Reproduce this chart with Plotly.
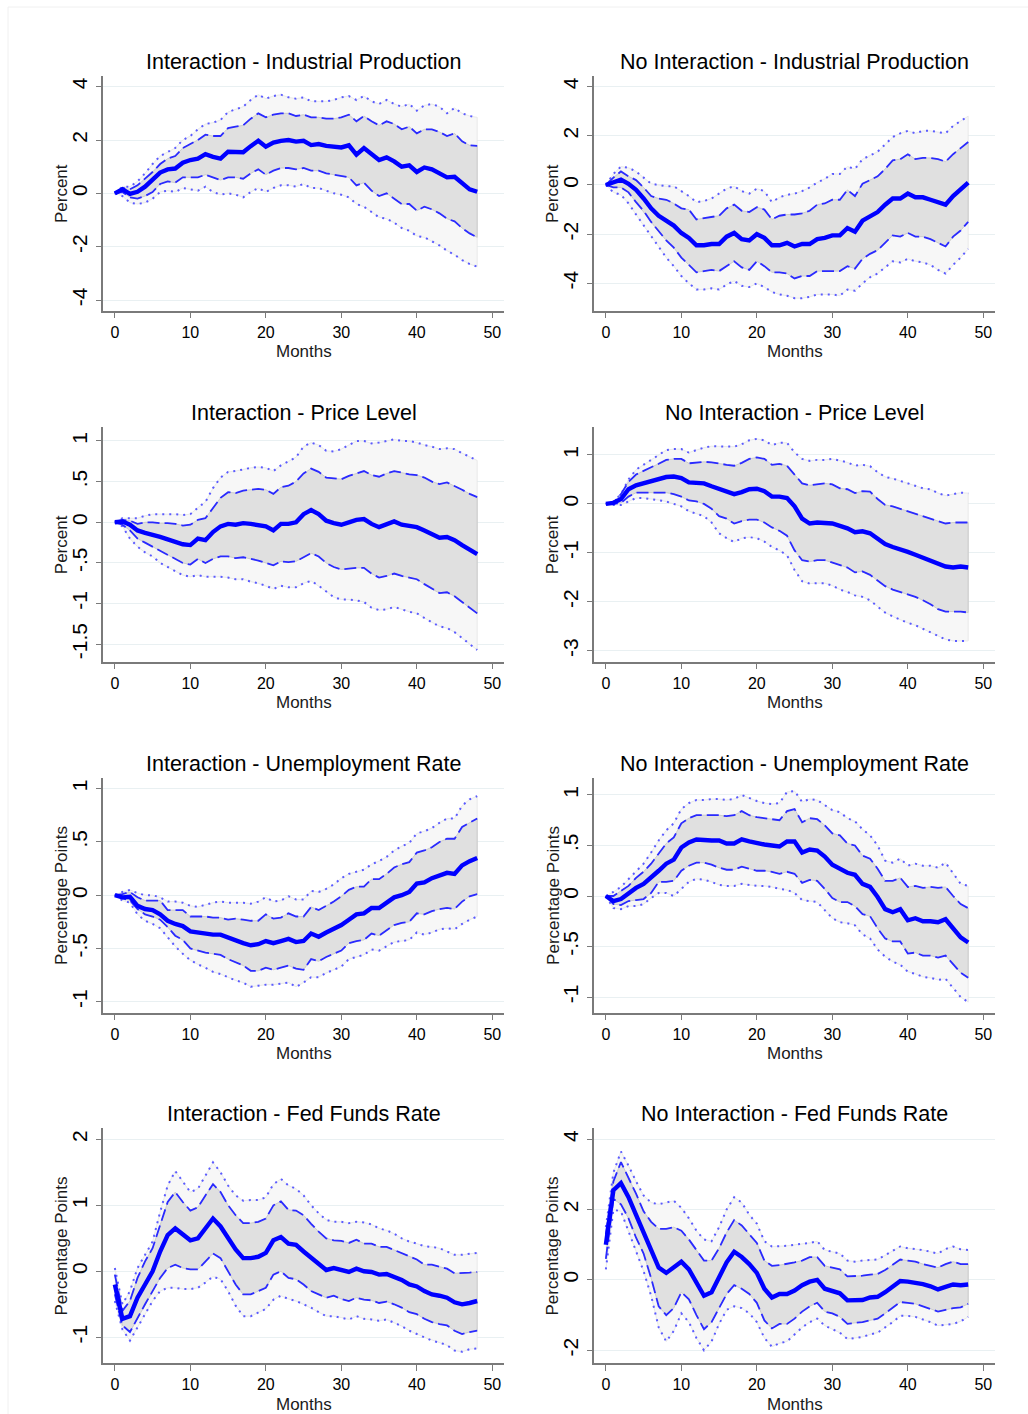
import plotly.graph_objects as go

months = list(range(49))

# ---------------- Interaction - Industrial Production ----------------
ip_int = [0, 0.15, -0.02, 0.06, 0.25, 0.5, 0.78, 0.9, 0.93, 1.15, 1.25, 1.3, 1.47, 1.37, 1.3, 1.56, 1.56, 1.54, 1.77, 1.97,
          1.75, 1.9, 1.97, 2.0, 1.94, 1.97, 1.81, 1.85, 1.78, 1.75, 1.72, 1.8, 1.45, 1.7, 1.45, 1.25, 1.35, 1.2, 1.0, 1.05,
          0.8, 0.97, 0.9, 0.77, 0.6, 0.62, 0.37, 0.15, 0.06]
ip_int_hi68 = [0, 0.2, 0.15, 0.3, 0.55, 0.8, 1.1, 1.3, 1.4, 1.7, 1.85, 2.0, 2.2, 2.15, 2.15, 2.45, 2.5, 2.55, 2.8, 3.0,
               2.85, 2.95, 3.0, 3.0, 2.9, 2.95, 2.85, 2.85, 2.8, 2.8, 2.85, 2.95, 2.7, 2.9, 2.7, 2.55, 2.7, 2.6, 2.4, 2.5,
               2.25, 2.4, 2.4, 2.3, 2.15, 2.25, 1.95, 1.8, 1.78]
ip_int_lo68 = [0, 0.05, -0.15, -0.2, -0.1, 0.05, 0.35, 0.45, 0.4, 0.6, 0.6, 0.6, 0.7, 0.6, 0.5, 0.6, 0.6, 0.55, 0.75, 0.9,
               0.7, 0.85, 0.95, 0.95, 0.9, 0.95, 0.85, 0.85, 0.75, 0.7, 0.65, 0.6, 0.3, 0.4, 0.1, -0.1, 0.0, -0.2, -0.4, -0.4,
               -0.65, -0.5, -0.6, -0.75, -0.95, -1.05, -1.3, -1.5, -1.65]
ip_int_hi90 = [0, 0.25, 0.25, 0.45, 0.75, 1.1, 1.4, 1.55, 1.7, 2.0, 2.15, 2.4, 2.6, 2.65, 2.75, 3.05, 3.15, 3.25, 3.5, 3.7,
               3.55, 3.65, 3.7, 3.6, 3.55, 3.6, 3.45, 3.45, 3.45, 3.5, 3.6, 3.65, 3.5, 3.65, 3.45, 3.35, 3.5, 3.35, 3.25, 3.35,
               3.1, 3.3, 3.35, 3.25, 3.0, 3.2, 3.0, 2.9, 2.85]
ip_int_lo90 = [0, -0.1, -0.35, -0.4, -0.35, -0.2, 0.05, 0.1, 0.05, 0.2, 0.15, 0.1, 0.25, 0.05, -0.05, 0.0, -0.05, -0.15, 0.05, 0.2,
               0.05, 0.2, 0.3, 0.3, 0.25, 0.35, 0.2, 0.2, 0.1, 0.0, -0.05, -0.15, -0.4, -0.5, -0.7, -0.9, -0.95, -1.1, -1.3, -1.4,
               -1.6, -1.65, -1.8, -1.95, -2.15, -2.3, -2.5, -2.65, -2.75]

# ---------------- No Interaction - Industrial Production ----------------
ip_noint = [0, 0.1, 0.22, 0.05, -0.2, -0.55, -0.95, -1.25, -1.45, -1.65, -1.95, -2.15, -2.45, -2.45, -2.4, -2.4, -2.1, -1.95, -2.2, -2.25,
            -2.0, -2.15, -2.45, -2.45, -2.35, -2.5, -2.4, -2.4, -2.2, -2.15, -2.05, -2.05, -1.75, -1.9, -1.45, -1.25, -1.1, -0.8, -0.55, -0.55,
            -0.35, -0.5, -0.5, -0.6, -0.7, -0.8, -0.45, -0.2, 0.1]
ip_noint_hi68 = [0, 0.3, 0.55, 0.35, 0.2, -0.1, -0.45, -0.55, -0.6, -0.75, -0.95, -1.0, -1.4, -1.35, -1.3, -1.25, -0.95, -0.8, -1.05, -1.1,
                 -0.9, -1.0, -1.4, -1.25, -1.2, -1.2, -1.15, -1.05, -0.8, -0.75, -0.6, -0.6, -0.2, -0.45, 0.05, 0.2, 0.35, 0.65, 1.0, 1.05,
                 1.25, 1.05, 1.1, 1.1, 1.05, 0.95, 1.25, 1.5, 1.75]
ip_noint_lo68 = [0, -0.1, -0.1, -0.3, -0.7, -1.05, -1.5, -1.9, -2.25, -2.55, -2.95, -3.25, -3.55, -3.5, -3.45, -3.5, -3.3, -3.1, -3.35, -3.45,
                 -3.1, -3.3, -3.55, -3.55, -3.6, -3.8, -3.7, -3.7, -3.5, -3.5, -3.5, -3.5, -3.3, -3.4, -3.0, -2.8, -2.65, -2.35, -2.05, -2.1,
                 -1.95, -2.1, -2.1, -2.2, -2.35, -2.5, -2.1, -1.85, -1.5]
ip_noint_hi90 = [0, 0.45, 0.75, 0.7, 0.55, 0.3, 0.05, 0.0, -0.05, -0.05, -0.25, -0.45, -0.7, -0.65, -0.55, -0.35, -0.15, -0.05, -0.25, -0.35,
                 -0.15, -0.25, -0.7, -0.5, -0.4, -0.35, -0.25, -0.1, 0.1, 0.25, 0.45, 0.45, 0.75, 0.65, 1.05, 1.2, 1.35, 1.65, 1.95, 2.1,
                 2.2, 2.1, 2.2, 2.2, 2.15, 2.1, 2.4, 2.6, 2.8]
ip_noint_lo90 = [0, -0.3, -0.4, -0.75, -1.2, -1.65, -2.1, -2.5, -2.95, -3.3, -3.7, -4.0, -4.25, -4.25, -4.2, -4.25, -4.05, -3.9, -4.1, -4.15,
                 -4.0, -4.15, -4.35, -4.45, -4.5, -4.6, -4.6, -4.55, -4.45, -4.45, -4.45, -4.5, -4.25, -4.3, -4.0, -3.75, -3.6, -3.35, -3.1, -3.15,
                 -3.0, -3.1, -3.15, -3.25, -3.45, -3.6, -3.25, -2.95, -2.6]

# ---------------- Interaction - Price Level ----------------
pl_int = [0, 0.01, -0.03, -0.1, -0.13, -0.15, -0.18, -0.21, -0.24, -0.27, -0.28, -0.2, -0.22, -0.12, -0.05, -0.02, -0.03, -0.01, -0.02, -0.03,
          -0.05, -0.1, -0.02, -0.02, 0.0, 0.1, 0.15, 0.1, 0.02, -0.01, -0.03, 0.0, 0.03, 0.04, -0.02, -0.06, -0.03, 0.01, -0.03, -0.04,
          -0.06, -0.1, -0.14, -0.19, -0.18, -0.22, -0.28, -0.33, -0.39]
pl_int_hi68 = [0, 0.03, 0.02, -0.02, 0.0, 0.0, -0.01, -0.01, -0.02, -0.04, -0.03, 0.03, 0.05, 0.18, 0.3, 0.37, 0.36, 0.39, 0.4, 0.41,
               0.4, 0.35, 0.43, 0.45, 0.5, 0.6, 0.66, 0.62, 0.55, 0.54, 0.53, 0.57, 0.6, 0.63, 0.58, 0.56, 0.6, 0.63, 0.61, 0.59,
               0.58, 0.55, 0.5, 0.47, 0.49, 0.45, 0.4, 0.35, 0.31]
pl_int_lo68 = [0, -0.03, -0.1, -0.2, -0.25, -0.3, -0.35, -0.4, -0.45, -0.5, -0.52, -0.45, -0.5, -0.45, -0.42, -0.42, -0.44, -0.43, -0.45, -0.47,
               -0.5, -0.53, -0.48, -0.49, -0.48, -0.43, -0.38, -0.42, -0.5, -0.55, -0.58, -0.57, -0.56, -0.56, -0.63, -0.68, -0.66, -0.63, -0.66, -0.68,
               -0.7, -0.76, -0.82, -0.87, -0.86, -0.91, -0.98, -1.05, -1.12]
pl_int_hi90 = [0, 0.05, 0.05, 0.05, 0.08, 0.1, 0.1, 0.1, 0.1, 0.09, 0.1, 0.18, 0.25, 0.42, 0.55, 0.62, 0.63, 0.65, 0.67, 0.68,
               0.67, 0.63, 0.7, 0.75, 0.8, 0.93, 0.98, 0.95, 0.88, 0.87, 0.9, 0.95, 1.0, 1.0, 0.97, 0.98, 1.0, 1.02, 1.0, 1.0,
               0.98, 0.95, 0.93, 0.9, 0.91, 0.9, 0.85, 0.8, 0.76]
pl_int_lo90 = [0, -0.05, -0.2, -0.3, -0.37, -0.42, -0.5, -0.55, -0.6, -0.65, -0.67, -0.65, -0.67, -0.67, -0.67, -0.68, -0.7, -0.7, -0.73, -0.75,
               -0.78, -0.82, -0.78, -0.8, -0.8, -0.75, -0.72, -0.78, -0.85, -0.92, -0.95, -0.95, -0.96, -0.98, -1.05, -1.08, -1.07, -1.04, -1.07, -1.1,
               -1.12, -1.18, -1.23, -1.28, -1.3, -1.35, -1.42, -1.5, -1.57]

# ---------------- No Interaction - Price Level ----------------
pl_noint = [0, 0.02, 0.1, 0.3, 0.38, 0.42, 0.46, 0.5, 0.55, 0.56, 0.53, 0.44, 0.44, 0.42, 0.36, 0.3, 0.25, 0.2, 0.24, 0.3,
            0.31, 0.26, 0.15, 0.15, 0.12, -0.05, -0.3, -0.4, -0.38, -0.38, -0.4, -0.45, -0.5, -0.58, -0.56, -0.6, -0.7, -0.82, -0.88, -0.92,
            -0.98, -1.04, -1.1, -1.15, -1.2, -1.28, -1.3, -1.28, -1.3]
pl_noint_hi68 = [0, 0.03, 0.2, 0.45, 0.6, 0.68, 0.75, 0.82, 0.9, 0.92, 0.92, 0.83, 0.84, 0.86, 0.85, 0.82, 0.8, 0.78, 0.84, 0.92,
                 0.95, 0.92, 0.8, 0.82, 0.78, 0.6, 0.42, 0.38, 0.4, 0.42, 0.4, 0.32, 0.3, 0.22, 0.26, 0.25, 0.1, -0.02, -0.05, -0.1,
                 -0.15, -0.2, -0.25, -0.3, -0.35, -0.4, -0.38, -0.38, -0.38]
pl_noint_lo68 = [0, 0.0, 0.02, 0.15, 0.23, 0.23, 0.23, 0.22, 0.23, 0.2, 0.15, 0.07, 0.05, 0.0, -0.1, -0.25, -0.3, -0.4, -0.35, -0.32,
                 -0.32, -0.38, -0.48, -0.55, -0.65, -0.95, -1.15, -1.18, -1.15, -1.15, -1.2, -1.25, -1.3, -1.4, -1.38, -1.45, -1.57, -1.68, -1.75, -1.8,
                 -1.85, -1.9, -1.97, -2.05, -2.15, -2.2, -2.2, -2.2, -2.22]
pl_noint_hi90 = [0, 0.05, 0.2, 0.5, 0.7, 0.8, 0.9, 1.0, 1.1, 1.12, 1.12, 1.05, 1.1, 1.15, 1.18, 1.18, 1.17, 1.17, 1.22, 1.3,
                 1.33, 1.3, 1.2, 1.25, 1.25, 1.05, 0.92, 0.88, 0.9, 0.9, 0.92, 0.88, 0.85, 0.78, 0.8, 0.77, 0.65, 0.55, 0.52, 0.47,
                 0.42, 0.38, 0.32, 0.3, 0.22, 0.17, 0.2, 0.23, 0.22]
pl_noint_lo90 = [0, -0.02, -0.02, 0.05, 0.12, 0.12, 0.1, 0.08, 0.05, 0.0, -0.05, -0.15, -0.2, -0.25, -0.38, -0.6, -0.7, -0.78, -0.7, -0.68,
                 -0.7, -0.77, -0.88, -0.95, -1.05, -1.35, -1.58, -1.63, -1.62, -1.62, -1.67, -1.75, -1.8, -1.87, -1.9, -1.97, -2.1, -2.22, -2.3, -2.37,
                 -2.43, -2.48, -2.55, -2.62, -2.7, -2.77, -2.8, -2.8, -2.8]

# ---------------- Interaction - Unemployment Rate ----------------
ur_int = [0, -0.02, -0.015, -0.1, -0.13, -0.14, -0.18, -0.24, -0.27, -0.29, -0.34, -0.35, -0.37, -0.37, -0.37, -0.4, -0.42, -0.45, -0.47, -0.46,
          -0.43, -0.45, -0.43, -0.41, -0.44, -0.43, -0.36, -0.39, -0.35, -0.32, -0.28, -0.23, -0.18, -0.17, -0.12, -0.12, -0.07, -0.02, 0.0, 0.03,
          0.11, 0.12, 0.16, 0.18, 0.21, 0.2, 0.28, 0.32, 0.35]
ur_int_hi68 = [0, 0.01, 0.03, -0.02, -0.05, -0.05, -0.05, -0.14, -0.14, -0.14, -0.2, -0.2, -0.2, -0.21, -0.21, -0.23, -0.22, -0.23, -0.24, -0.24,
               -0.18, -0.22, -0.21, -0.17, -0.2, -0.2, -0.11, -0.14, -0.1, -0.06, -0.01, 0.05, 0.08, 0.08, 0.15, 0.15, 0.2, 0.26, 0.29, 0.31,
               0.4, 0.42, 0.45, 0.5, 0.53, 0.53, 0.64, 0.68, 0.72]
ur_int_lo68 = [0, -0.03, -0.05, -0.13, -0.18, -0.2, -0.23, -0.3, -0.38, -0.42, -0.5, -0.52, -0.54, -0.55, -0.56, -0.6, -0.63, -0.66, -0.71, -0.71,
               -0.68, -0.7, -0.68, -0.66, -0.69, -0.7, -0.6, -0.62, -0.58, -0.55, -0.52, -0.45, -0.43, -0.42, -0.36, -0.38, -0.33, -0.28, -0.26, -0.25,
               -0.17, -0.18, -0.15, -0.13, -0.12, -0.13, -0.06, -0.01, 0.01]
ur_int_hi90 = [0, 0.03, 0.05, 0.02, 0.0, 0.0, -0.02, -0.06, -0.06, -0.07, -0.1, -0.11, -0.09, -0.07, -0.06, -0.07, -0.07, -0.07, -0.08, -0.06,
               -0.02, -0.06, -0.05, -0.01, -0.04, -0.04, 0.04, 0.03, 0.06, 0.1, 0.16, 0.2, 0.22, 0.24, 0.29, 0.32, 0.36, 0.42, 0.46, 0.49,
               0.58, 0.6, 0.63, 0.68, 0.72, 0.72, 0.84, 0.9, 0.93]
ur_int_lo90 = [0, -0.05, -0.07, -0.18, -0.24, -0.27, -0.31, -0.4, -0.48, -0.55, -0.61, -0.65, -0.68, -0.72, -0.74, -0.77, -0.8, -0.82, -0.86, -0.85,
               -0.84, -0.84, -0.83, -0.82, -0.86, -0.82, -0.77, -0.77, -0.73, -0.7, -0.67, -0.6, -0.58, -0.56, -0.51, -0.52, -0.48, -0.44, -0.43, -0.42,
               -0.35, -0.37, -0.35, -0.32, -0.31, -0.32, -0.27, -0.23, -0.2]

# ---------------- No Interaction - Unemployment Rate ----------------
ur_noint = [0, -0.05, -0.03, 0.03, 0.08, 0.12, 0.18, 0.25, 0.32, 0.36, 0.48, 0.53, 0.56, 0.55, 0.55, 0.55, 0.52, 0.52, 0.56, 0.54,
            0.52, 0.51, 0.5, 0.49, 0.54, 0.54, 0.43, 0.46, 0.45, 0.39, 0.31, 0.27, 0.23, 0.21, 0.12, 0.09, -0.01, -0.13, -0.16, -0.13,
            -0.24, -0.22, -0.25, -0.25, -0.26, -0.23, -0.32, -0.41, -0.46]
ur_noint_hi68 = [0, 0.0, 0.05, 0.1, 0.18, 0.24, 0.32, 0.42, 0.52, 0.58, 0.72, 0.77, 0.8, 0.8, 0.8, 0.8, 0.79, 0.8, 0.84, 0.8,
                 0.78, 0.77, 0.76, 0.75, 0.84, 0.86, 0.73, 0.77, 0.76, 0.7, 0.62, 0.6, 0.52, 0.5, 0.4, 0.37, 0.27, 0.15, 0.15, 0.18,
                 0.09, 0.1, 0.08, 0.09, 0.08, 0.09, 0.0, -0.08, -0.12]
ur_noint_lo68 = [0, -0.08, -0.09, -0.05, -0.04, -0.03, 0.03, 0.14, 0.14, 0.15, 0.25, 0.3, 0.33, 0.33, 0.31, 0.28, 0.26, 0.26, 0.29, 0.27,
                 0.25, 0.25, 0.24, 0.22, 0.24, 0.22, 0.13, 0.16, 0.15, 0.07, -0.02, -0.06, -0.06, -0.1, -0.18, -0.2, -0.32, -0.42, -0.45, -0.45,
                 -0.57, -0.56, -0.59, -0.59, -0.61, -0.59, -0.67, -0.76, -0.81]
ur_noint_hi90 = [0, 0.04, 0.09, 0.17, 0.25, 0.32, 0.43, 0.55, 0.65, 0.72, 0.86, 0.92, 0.95, 0.95, 0.96, 0.96, 0.95, 0.96, 1.0, 0.97,
                 0.94, 0.92, 0.91, 0.92, 1.03, 1.04, 0.93, 0.96, 0.95, 0.9, 0.85, 0.83, 0.77, 0.74, 0.66, 0.6, 0.5, 0.35, 0.33, 0.37,
                 0.3, 0.32, 0.3, 0.3, 0.28, 0.33, 0.23, 0.12, 0.1]
ur_noint_lo90 = [0, -0.12, -0.13, -0.1, -0.1, -0.08, -0.02, 0.03, 0.03, 0.0, 0.07, 0.14, 0.17, 0.16, 0.14, 0.11, 0.1, 0.1, 0.12, 0.11,
                 0.1, 0.1, 0.09, 0.07, 0.06, 0.03, -0.04, -0.05, -0.06, -0.14, -0.22, -0.26, -0.27, -0.29, -0.38, -0.42, -0.53, -0.6, -0.65, -0.68,
                 -0.75, -0.77, -0.8, -0.81, -0.83, -0.82, -0.91, -1.0, -1.05]

# ---------------- Interaction - Fed Funds Rate ----------------
ff_int = [-0.2, -0.72, -0.68, -0.4, -0.2, 0.0, 0.3, 0.55, 0.65, 0.55, 0.47, 0.5, 0.65, 0.8, 0.68, 0.5, 0.33, 0.2, 0.2, 0.22,
          0.28, 0.47, 0.52, 0.42, 0.4, 0.3, 0.2, 0.1, 0.02, 0.05, 0.02, -0.01, 0.04, 0.0, -0.01, -0.05, -0.04, -0.08, -0.13, -0.2,
          -0.23, -0.3, -0.35, -0.37, -0.4, -0.47, -0.5, -0.48, -0.45]
ff_int_hi68 = [-0.05, -0.6, -0.45, -0.1, 0.15, 0.35, 0.7, 1.05, 1.2, 1.05, 0.92, 0.97, 1.15, 1.32, 1.2, 1.0, 0.85, 0.73, 0.73, 0.75,
               0.8, 1.0, 1.06, 0.93, 0.92, 0.85, 0.72, 0.6, 0.5, 0.47, 0.46, 0.43, 0.48, 0.42, 0.42, 0.37, 0.37, 0.32, 0.27, 0.22,
               0.18, 0.1, 0.1, 0.07, 0.04, -0.03, -0.03, -0.02, -0.01]
ff_int_lo68 = [-0.35, -0.82, -0.92, -0.7, -0.5, -0.3, -0.1, 0.05, 0.1, 0.05, 0.03, 0.03, 0.15, 0.27, 0.2, 0.0, -0.2, -0.35, -0.35, -0.3,
               -0.25, -0.05, 0.0, -0.1, -0.12, -0.2, -0.3, -0.35, -0.4, -0.37, -0.42, -0.45, -0.4, -0.43, -0.44, -0.48, -0.46, -0.5, -0.55, -0.62,
               -0.65, -0.72, -0.77, -0.8, -0.82, -0.9, -0.95, -0.92, -0.9]
ff_int_hi90 = [0.05, -0.5, -0.3, 0.05, 0.25, 0.45, 0.9, 1.3, 1.52, 1.35, 1.2, 1.25, 1.45, 1.65, 1.5, 1.3, 1.15, 1.07, 1.08, 1.08,
               1.12, 1.32, 1.4, 1.3, 1.25, 1.15, 1.0, 0.88, 0.78, 0.75, 0.75, 0.73, 0.75, 0.74, 0.71, 0.65, 0.62, 0.57, 0.5, 0.45,
               0.42, 0.38, 0.37, 0.35, 0.3, 0.25, 0.25, 0.27, 0.28]
ff_int_lo90 = [-0.45, -0.88, -1.05, -0.85, -0.65, -0.45, -0.3, -0.25, -0.25, -0.27, -0.27, -0.25, -0.17, -0.08, -0.12, -0.3, -0.52, -0.68, -0.68, -0.63,
               -0.57, -0.43, -0.37, -0.42, -0.45, -0.5, -0.55, -0.62, -0.68, -0.68, -0.7, -0.73, -0.68, -0.72, -0.73, -0.75, -0.73, -0.78, -0.83, -0.9,
               -0.95, -1.0, -1.05, -1.08, -1.12, -1.2, -1.22, -1.18, -1.17]

# ---------------- No Interaction - Fed Funds Rate ----------------
ff_noint = [1.0, 2.55, 2.75, 2.35, 1.85, 1.35, 0.85, 0.35, 0.2, 0.35, 0.52, 0.3, -0.1, -0.45, -0.35, 0.05, 0.5, 0.8, 0.65, 0.45,
            0.2, -0.25, -0.5, -0.4, -0.4, -0.3, -0.15, -0.05, 0.0, -0.25, -0.3, -0.38, -0.58, -0.58, -0.57, -0.5, -0.48, -0.35, -0.2, -0.03,
            -0.05, -0.08, -0.12, -0.18, -0.27, -0.2, -0.13, -0.15, -0.13]
ff_noint_hi68 = [1.3, 2.8, 3.35, 2.9, 2.45, 1.95, 1.65, 1.45, 1.45, 1.5, 1.4, 1.15, 0.85, 0.55, 0.55, 0.9, 1.35, 1.7, 1.55, 1.3,
                 1.05, 0.55, 0.4, 0.42, 0.45, 0.5, 0.55, 0.65, 0.65, 0.4, 0.35, 0.3, 0.1, 0.1, 0.12, 0.15, 0.17, 0.28, 0.42, 0.58,
                 0.55, 0.52, 0.45, 0.4, 0.35, 0.45, 0.52, 0.45, 0.45]
ff_noint_lo68 = [0.6, 2.3, 2.15, 1.75, 1.2, 0.75, 0.05, -0.75, -1.0, -0.8, -0.35, -0.55, -1.0, -1.4, -1.2, -0.8, -0.4, -0.15, -0.25, -0.4,
                 -0.65, -1.15, -1.38, -1.25, -1.25, -1.1, -0.9, -0.75, -0.65, -0.9, -0.95, -1.05, -1.25, -1.22, -1.2, -1.15, -1.1, -0.95, -0.8, -0.63,
                 -0.65, -0.68, -0.75, -0.82, -0.9, -0.85, -0.8, -0.78, -0.68]
ff_noint_hi90 = [1.5, 3.05, 3.65, 3.25, 2.8, 2.4, 2.2, 2.15, 2.2, 2.25, 2.05, 1.75, 1.4, 1.15, 1.1, 1.5, 2.0, 2.35, 2.2, 1.85,
                 1.6, 1.1, 0.95, 0.95, 0.97, 1.0, 1.02, 1.05, 1.1, 0.85, 0.8, 0.75, 0.55, 0.52, 0.55, 0.57, 0.58, 0.7, 0.82, 0.95,
                 0.9, 0.88, 0.85, 0.8, 0.75, 0.88, 0.95, 0.87, 0.85]
ff_noint_lo90 = [0.3, 2.0, 1.95, 1.4, 0.8, 0.25, -0.45, -1.35, -1.75, -1.45, -0.95, -1.2, -1.65, -2.0, -1.75, -1.25, -0.85, -0.75, -0.8, -0.95,
                 -1.2, -1.65, -1.9, -1.8, -1.75, -1.55, -1.35, -1.2, -1.1, -1.3, -1.4, -1.5, -1.68, -1.65, -1.62, -1.55, -1.5, -1.35, -1.2, -1.02,
                 -1.02, -1.05, -1.12, -1.2, -1.3, -1.28, -1.25, -1.18, -1.05]

# Axis ticks
x_ticks = [0, 10, 20, 30, 40, 50]
ip_int_yticks = [-4, -2, 0, 2, 4]
ip_noint_yticks = [-4, -2, 0, 2, 4]
pl_int_yticks = [-1.5, -1, -0.5, 0, 0.5, 1]
pl_int_ylabels = ["-1.5", "-1", "-.5", "0", ".5", "1"]
pl_noint_yticks = [-3, -2, -1, 0, 1]
ur_yticks = [-1, -0.5, 0, 0.5, 1]
ur_ylabels = ["-1", "-.5", "0", ".5", "1"]
ff_int_yticks = [-1, 0, 1, 2]
ff_noint_yticks = [-2, 0, 2, 4]

panels = [
    dict(title="Interaction - Industrial Production", ytitle="Percent",
         est=ip_int, lo68=ip_int_lo68, hi68=ip_int_hi68, lo90=ip_int_lo90, hi90=ip_int_hi90,
         yticks=ip_int_yticks, ylabels=None, yrange=[-4.4, 4.4]),
    dict(title="No Interaction - Industrial Production", ytitle="Percent",
         est=ip_noint, lo68=ip_noint_lo68, hi68=ip_noint_hi68, lo90=ip_noint_lo90, hi90=ip_noint_hi90,
         yticks=ip_noint_yticks, ylabels=None, yrange=[-5.11, 4.43]),
    dict(title="Interaction - Price Level", ytitle="Percent",
         est=pl_int, lo68=pl_int_lo68, hi68=pl_int_hi68, lo90=pl_int_lo90, hi90=pl_int_hi90,
         yticks=pl_int_yticks, ylabels=pl_int_ylabels, yrange=[-1.714, 1.168]),
    dict(title="No Interaction - Price Level", ytitle="Percent",
         est=pl_noint, lo68=pl_noint_lo68, hi68=pl_noint_hi68, lo90=pl_noint_lo90, hi90=pl_noint_hi90,
         yticks=pl_noint_yticks, ylabels=None, yrange=[-3.225, 1.566]),
    dict(title="Interaction - Unemployment Rate", ytitle="Percentage Points",
         est=ur_int, lo68=ur_int_lo68, hi68=ur_int_hi68, lo90=ur_int_lo90, hi90=ur_int_hi90,
         yticks=ur_yticks, ylabels=ur_ylabels, yrange=[-1.103, 1.103]),
    dict(title="No Interaction - Unemployment Rate", ytitle="Percentage Points",
         est=ur_noint, lo68=ur_noint_lo68, hi68=ur_noint_hi68, lo90=ur_noint_lo90, hi90=ur_noint_hi90,
         yticks=ur_yticks, ylabels=ur_ylabels, yrange=[-1.155, 1.171]),
    dict(title="Interaction - Fed Funds Rate", ytitle="Percentage Points",
         est=ff_int, lo68=ff_int_lo68, hi68=ff_int_hi68, lo90=ff_int_lo90, hi90=ff_int_hi90,
         yticks=ff_int_yticks, ylabels=None, yrange=[-1.394, 2.167]),
    dict(title="No Interaction - Fed Funds Rate", ytitle="Percentage Points",
         est=ff_noint, lo68=ff_noint_lo68, hi68=ff_noint_hi68, lo90=ff_noint_lo90, hi90=ff_noint_hi90,
         yticks=ff_noint_yticks, ylabels=None, yrange=[-2.37, 4.31]),
]

W, H = 1028, 1414
FONT = "Liberation Sans, Arial, Helvetica, sans-serif"
col_px = [(103.3, 504.0), (594.3, 995.0)]
row_px = [(76.0, 310.7), (427.3, 661.7), (777.7, 1012.7), (1128.3, 1363.3)]

BLUE = "#0000ff"
AXIS = "#7a7a7a"
GRID = "#e9f0f2"

fig = go.Figure()
layout = dict(
    width=W, height=H, margin=dict(l=0, r=0, t=0, b=0),
    paper_bgcolor="white", plot_bgcolor="white", showlegend=False,
    font=dict(family=FONT, color="#000000"),
)
annotations = []

for i, p in enumerate(panels):
    r, c = divmod(i, 2)
    x0, x1 = col_px[c]
    y0, y1 = row_px[r]
    n = "" if i == 0 else str(i + 1)
    xa, ya = "x" + n, "y" + n

    t = months
    # 90% band
    fig.add_trace(go.Scatter(x=t + t[::-1], y=p["hi90"] + p["lo90"][::-1], fill="toself",
                             fillcolor="#f7f7f7", line=dict(color="#e4e4e4", width=0.8),
                             mode="lines", hoverinfo="skip", xaxis=xa, yaxis=ya))
    # 68% band
    fig.add_trace(go.Scatter(x=t + t[::-1], y=p["hi68"] + p["lo68"][::-1], fill="toself",
                             fillcolor="#e0e0e0", line=dict(color="#c4c4c4", width=0.8),
                             mode="lines", hoverinfo="skip", xaxis=xa, yaxis=ya))
    for key in ("hi90", "lo90"):
        fig.add_trace(go.Scatter(x=t, y=p[key], mode="lines",
                                 line=dict(color="#5b5bff", width=2, dash="2px,5px"),
                                 xaxis=xa, yaxis=ya))
    for key in ("hi68", "lo68"):
        fig.add_trace(go.Scatter(x=t, y=p[key], mode="lines",
                                 line=dict(color="#2a2aff", width=1.8, dash="12px,5px"),
                                 xaxis=xa, yaxis=ya))
    fig.add_trace(go.Scatter(x=t, y=p["est"], mode="lines",
                             line=dict(color=BLUE, width=4.4), xaxis=xa, yaxis=ya))

    layout["xaxis" + n] = dict(
        domain=[x0 / W, x1 / W], anchor=ya, range=[-1.53, 51.55],
        tickvals=x_ticks, ticks="outside", ticklen=6, tickwidth=1.3, tickcolor=AXIS,
        showline=True, linecolor=AXIS, linewidth=1.5, showgrid=False, zeroline=False,
        tickfont=dict(size=16, family=FONT, color="#000000"),
    )
    layout["yaxis" + n] = dict(
        domain=[1 - y1 / H, 1 - y0 / H], anchor=xa, range=p["yrange"],
        tickvals=p["yticks"], ticktext=p["ylabels"] if p["ylabels"] else [str(v) for v in p["yticks"]],
        tickangle=-90, ticks="outside", ticklen=6, tickwidth=1.3, tickcolor=AXIS,
        showline=True, linecolor=AXIS, linewidth=1.5, showgrid=True, gridcolor=GRID, gridwidth=1.2,
        zeroline=False, tickfont=dict(size=21, family=FONT, color="#000000"),
    )

    cx = (x0 + x1) / 2
    annotations.append(dict(text=p["title"], x=cx / W, y=1 - (y0 - 14) / H, xref="paper", yref="paper",
                            xanchor="center", yanchor="middle", showarrow=False,
                            font=dict(size=21.5, family=FONT, color="#000000")))
    annotations.append(dict(text="Months", x=cx / W, y=1 - (y1 + 41) / H, xref="paper", yref="paper",
                            xanchor="center", yanchor="middle", showarrow=False,
                            font=dict(size=17, family=FONT, color="#1a1a1a")))
    annotations.append(dict(text=p["ytitle"], x=(x0 - 41.6) / W, y=1 - ((y0 + y1) / 2) / H,
                            xref="paper", yref="paper", xanchor="center", yanchor="middle",
                            textangle=-90, showarrow=False,
                            font=dict(size=17, family=FONT, color="#1a1a1a")))

layout["annotations"] = annotations
layout["shapes"] = [
    dict(type="line", xref="paper", yref="paper", x0=8 / W, x1=8 / W, y0=0, y1=1 - 7 / H,
         line=dict(color="#f0f0f0", width=1)),
    dict(type="line", xref="paper", yref="paper", x0=8 / W, x1=1, y0=1 - 7 / H, y1=1 - 7 / H,
         line=dict(color="#f0f0f0", width=1)),
]
fig.update_layout(**layout)
fig.write_html("out.html")
